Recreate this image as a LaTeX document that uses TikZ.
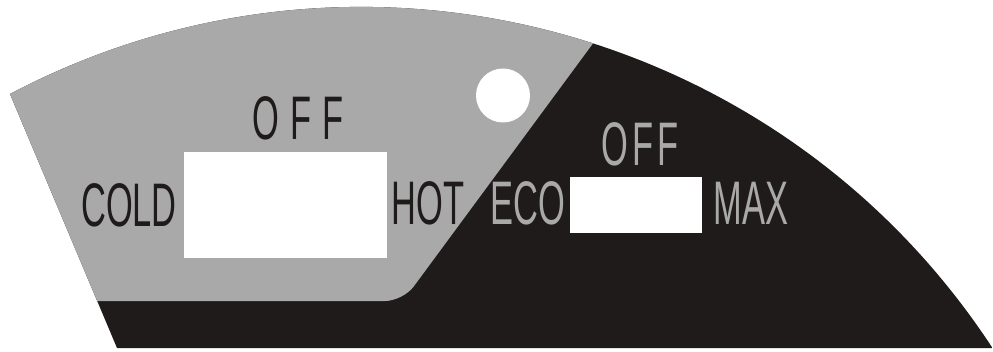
\documentclass[tikz,border=0pt]{standalone}
\usepackage{fontspec}
\newfontfamily\panelfont[FakeStretch=0.56]{Liberation Sans}
\definecolor{panelgrey}{HTML}{A9A9A9}
\definecolor{panelblack}{HTML}{1F1B1A}
\tikzset{
  darklabel/.style={text=panelblack, font=\panelfont\fontsize{35}{38}\selectfont, inner sep=0pt},
  lightlabel/.style={darklabel, text=panelgrey}
}
\begin{document}
\begin{tikzpicture}[x=0.2mm,y=0.2mm]
\useasboundingbox (0,0) rectangle (993,351);
\begin{scope}
\clip (117,3) -- (10,257) arc[start angle=117.8,end angle=33.2,radius=754] -- cycle;
\fill[panelblack] (0,0) rectangle (993,351);
\fill[panelgrey, rounded corners=3.6mm] (-20,50) -- (-20,370) -- (639,370) -- (403,50) -- cycle;
\end{scope}

\fill[white] (184,93) rectangle (387,199);
\fill[white] (570,118) rectangle (702,174);
\fill[white] (503,255.5) circle[radius=27];

\node[darklabel] (offleft) at (298,233) {O\kern.18em F\kern.18em F};
\node[darklabel] (cold) at (129,146) {COLD};
\node[darklabel] (hot) at (428,148) {HOT};

\node[lightlabel] (offright) at (640,207) {O\kern.06em F\kern.06em F};
\node[lightlabel] (eco) at (528,148) {ECO};
\node[lightlabel] (max) at (751,148) {MAX};
\end{tikzpicture}
\end{document}
